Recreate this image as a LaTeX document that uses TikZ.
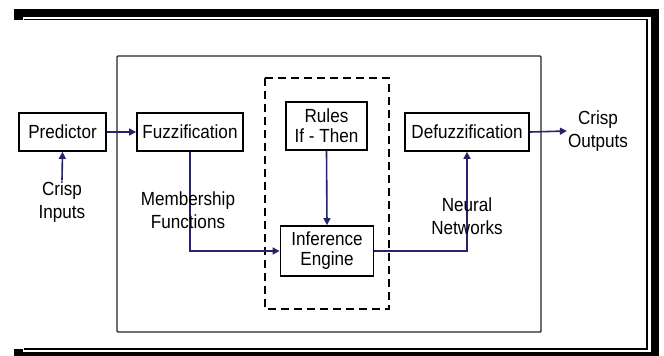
\documentclass[tikz,border=0pt]{standalone}
\usepackage{fontspec}
\setmainfont{Liberation Sans}[FakeStretch=0.9]
\usetikzlibrary{arrows.meta}
\definecolor{wire}{HTML}{24246E}
\tikzset{
  block/.style={draw=black, line width=1.8pt, fill=white, inner sep=0pt, align=center,
    font=\fontsize{19}{22}\selectfont},
  lbl/.style={inner sep=1pt, align=center, font=\fontsize{19}{23}\selectfont},
  wireline/.style={draw=wire, line width=1.6pt},
  flow/.style={wireline, -{Triangle[length=7pt,width=7pt,fill=black!85]}},
}
\begin{document}
\begin{tikzpicture}[x=1pt,y=-1pt]
\useasboundingbox (0,0) rectangle (664,356);
\fill[white] (0,0) rectangle (664,356);

% page border: thick outer band and thin inner rule
\fill[black] (14,9) rectangle (659,17);
\fill[black] (651,9) rectangle (659,356);
\fill[black] (14,352) rectangle (659,356);
\fill[black] (14,9) rectangle (23,20);
\fill[black] (14,349) rectangle (23,356);
\draw[line width=1.5pt] (24,19.5) -- (647,19.5) -- (647,349) -- (24,349);

% system frame and inference group
\draw[line width=1.4pt, draw=black!85, rounded corners=1pt] (117,56) rectangle (541,332);
\draw[line width=1.6pt, dash pattern=on 8pt off 5pt] (265,78) rectangle (389,309);

% blocks
\node[block, minimum width=87pt, minimum height=38pt] (pred) at (62.5,132) {Predictor};
\node[block, minimum width=106pt, minimum height=38pt] (fuzz) at (190,132) {Fuzzification};
\node[block, minimum width=81pt, minimum height=48pt] (rules) at (326.5,126) {Rules\\[-2pt]If - Then};
\node[block, minimum width=124pt, minimum height=38pt] (defuzz) at (467,132) {Defuzzification};
\node[block, minimum width=93pt, minimum height=50pt] (infer) at (327,251) {Inference\\[-2pt]Engine};

% labels
\node[lbl] (cin) at (62,202) {Crisp\\Inputs};
\node[lbl] (cout) at (598,131) {Crisp\\Outputs};

% connectors
\draw[flow] (cin.north) -- (pred.south);
\draw[flow] (pred.east) -- (fuzz.west);
\draw[flow] (fuzz.south) |- (infer.west);
\draw[flow] (rules.south) -- (infer.north);
\draw[flow] (infer.east) -| (defuzz.south);
\draw[flow] (defuzz.east) -- (cout.west);

% connector labels, wires run across them
\node[lbl] (memb) at (188,210) {Membership\\Functions};
\node[lbl] (neur) at (467,216) {Neural\\Networks};
\end{tikzpicture}
\end{document}
